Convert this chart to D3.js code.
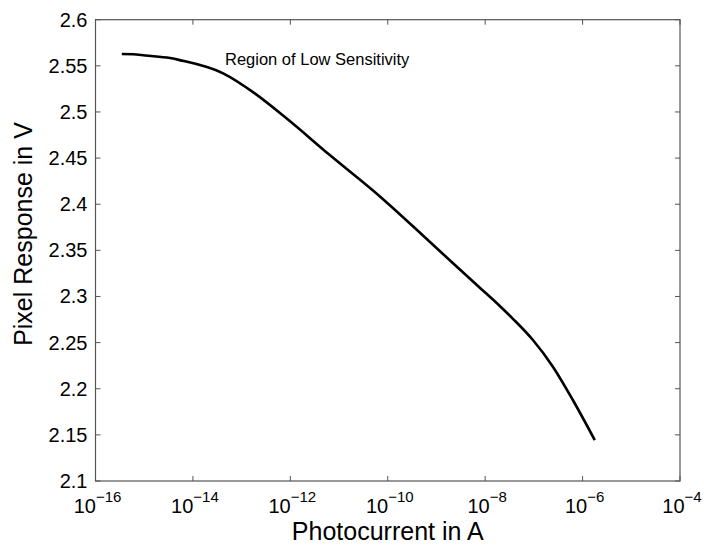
<!DOCTYPE html>
<html>
<head>
<meta charset="utf-8">
<script src="https://cdn.jsdelivr.net/npm/d3@7"></script>
<style>
  body { margin: 0; background: #fff; }
  text { font-family: "Liberation Sans", Arial, sans-serif; }
</style>
</head>
<body>
<script>
// log10 of photocurrent (A) and pixel response (V)
const logCurrent = [-15.46, -15.23, -14.98, -14.47, -14.27, -13.38, -12.73, -12.08, -11.19, -10.16, -9.41, -8.66, -8.11, -7.70, -7.43, -7.02, -6.61, -6.20, -5.75];
const response   = [2.5628, 2.5626, 2.5612, 2.5584, 2.5562, 2.5419, 2.5202, 2.4931, 2.4533, 2.4084, 2.3726, 2.3360, 2.3095, 2.2897, 2.2758, 2.2528, 2.2239, 2.1878, 2.1444];
const xTickExps = [-16, -14, -12, -10, -8, -6, -4];
const yTicks = [2.1, 2.15, 2.2, 2.25, 2.3, 2.35, 2.4, 2.45, 2.5, 2.55, 2.6];

const width = 704, height = 547;
const margin = { left: 95.5, right: 24, top: 19.7, bottom: 66 };

const svg = d3.select("body").append("svg")
    .attr("width", width)
    .attr("height", height);

const x = d3.scaleLog()
    .domain([1e-16, 1e-4])
    .range([margin.left, width - margin.right]);

const y = d3.scaleLinear()
    .domain([2.1, 2.6])
    .range([height - margin.bottom, margin.top]);

const axisColor = "#555";
const tickLen = 5;

// box
svg.append("rect")
    .attr("x", margin.left)
    .attr("y", margin.top)
    .attr("width", x.range()[1] - x.range()[0])
    .attr("height", y.range()[0] - y.range()[1])
    .attr("fill", "none")
    .attr("stroke", axisColor)
    .attr("stroke-width", 1.2);

const xTickVals = xTickExps.map(e => Math.pow(10, e));

// ticks inward on all four sides
const ticks = svg.append("g").attr("stroke", axisColor).attr("stroke-width", 1);
xTickVals.forEach(v => {
    ticks.append("line").attr("x1", x(v)).attr("x2", x(v))
        .attr("y1", y.range()[0]).attr("y2", y.range()[0] - tickLen);
    ticks.append("line").attr("x1", x(v)).attr("x2", x(v))
        .attr("y1", y.range()[1]).attr("y2", y.range()[1] + tickLen);
});
yTicks.forEach(v => {
    ticks.append("line").attr("x1", x.range()[0]).attr("x2", x.range()[0] + tickLen)
        .attr("y1", y(v)).attr("y2", y(v));
    ticks.append("line").attr("x1", x.range()[1]).attr("x2", x.range()[1] - tickLen)
        .attr("y1", y(v)).attr("y2", y(v));
});

// y tick labels
svg.append("g").selectAll("text")
    .data(yTicks)
    .join("text")
    .attr("x", margin.left - 8)
    .attr("y", d => y(d))
    .attr("dy", "0.35em")
    .attr("text-anchor", "end")
    .attr("font-size", 20)
    .text(d => d3.format("")(+d.toFixed(2)));

// x tick labels: 10^n
const xl = svg.append("g").selectAll("text")
    .data(xTickExps)
    .join("text")
    .attr("x", d => x(Math.pow(10, d)) + 2)
    .attr("y", height - margin.bottom + 32)
    .attr("text-anchor", "middle")
    .attr("font-size", 20);
xl.append("tspan").text("10");
xl.append("tspan")
    .attr("font-size", 15)
    .attr("dy", -11)
    .text(d => "\u2212" + Math.abs(d));

// axis titles
svg.append("text")
    .attr("x", (x.range()[0] + x.range()[1]) / 2)
    .attr("y", 540)
    .attr("text-anchor", "middle")
    .attr("font-size", 25)
    .text("Photocurrent in A");

svg.append("text")
    .attr("transform", "translate(32,234) rotate(-90)")
    .attr("text-anchor", "middle")
    .attr("font-size", 25)
    .text("Pixel Response in V");

// annotation
svg.append("text")
    .attr("x", 225)
    .attr("y", 65)
    .attr("font-size", 16.5)
    .text("Region of Low Sensitivity");

// curve
const line = d3.line()
    .x(d => x(Math.pow(10, d[0])))
    .y(d => y(d[1]))
    .curve(d3.curveMonotoneX);

svg.append("path")
    .datum(logCurrent.map((c, i) => [c, response[i]]))
    .attr("d", line)
    .attr("fill", "none")
    .attr("stroke", "#000")
    .attr("stroke-width", 2.6);
</script>
</body>
</html>
